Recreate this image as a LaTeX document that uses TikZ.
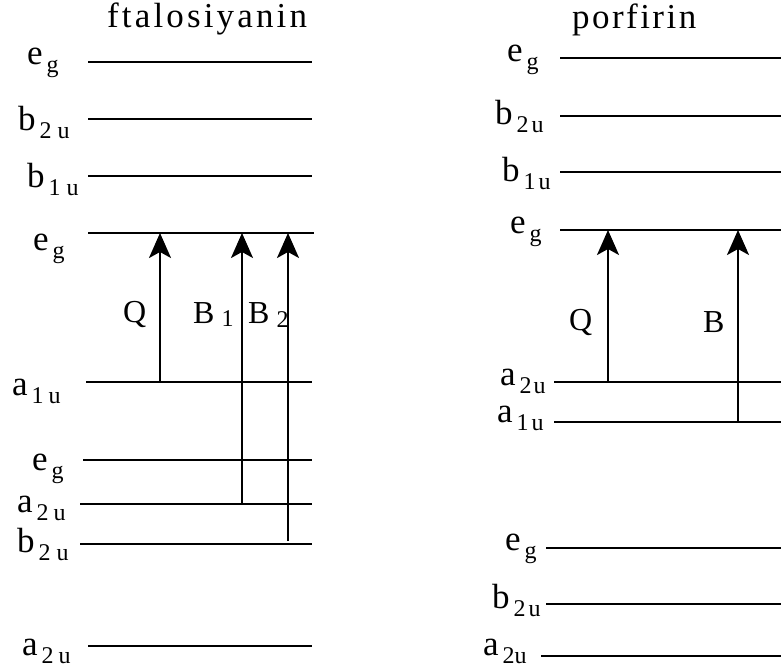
\documentclass[tikz,border=0pt]{standalone}
\usepackage{fontspec}
\setmainfont{Liberation Serif}
\usetikzlibrary{arrows.meta}

\newcommand{\lvfont}{\fontsize{35pt}{38pt}\selectfont}
\newcommand{\trfont}{\fontsize{32pt}{34pt}\selectfont}
\newcommand{\subfont}{\fontsize{24pt}{26pt}\selectfont}
\newcommand{\orb}[2]{#1\hspace{4pt}\raisebox{-8pt}{\subfont #2}}

\begin{document}
\begin{tikzpicture}[x=1pt,y=-1pt]
	\tikzstyle{every node}=[font=\lvfont, inner sep=0pt, anchor=base west]
	\tikzstyle{level}=[line width=2pt]
	\tikzstyle{levelb}=[line width=2.8pt]
	\tikzstyle{trans}=[line width=2pt, -{Stealth[length=25pt,width=22pt,inset=6pt]}]
	\useasboundingbox (0,0) rectangle (781,671);
	
	% ftalosiyanin
	\node (fttl) at (107,28) {\addfontfeature{LetterSpace=9}ftalosiyanin};
	
	\draw[level] (88,62) coordinate (fL1) -- (312,62);
	\draw[level] (88,119) coordinate (fL2) -- (312,119);
	\draw[level] (88,176) coordinate (fL3) -- (312,176);
	\draw[levelb] (88,233) coordinate (fL4) -- (314,233);
	\draw[levelb] (86,382) coordinate (fL5) -- (312,382);
	\draw[levelb] (83,460) coordinate (fL6) -- (312,460);
	\draw[levelb] (80,504) coordinate (fL7) -- (312,504);
	\draw[levelb] (80,544) coordinate (fL8) -- (312,544);
	\draw[levelb] (88,646) coordinate (fL9) -- (312,646);
	
	\node (fl1) at (27,65) {\orb{e}{g}};
	\node (fl2) at (18,131) {\orb{b}{2\hspace{6pt}u}};
	\node (fl3) at (27,188) {\orb{b}{1\hspace{6pt}u}};
	\node (fl4) at (33,250) {\orb{e}{g}};
	\node (fl5) at (12,395) {\orb{a}{1\hspace{5pt}u}};
	\node (fl6) at (32,470) {\orb{e}{g}};
	\node (fl7) at (17,512) {\orb{a}{2\hspace{5pt}u}};
	\node (fl8) at (17,552) {\orb{b}{2\hspace{6pt}u}};
	\node (fl9) at (22,655) {\orb{a}{2\hspace{5pt}u}};
	
	\coordinate (fQ) at (160,0);
	\coordinate (fB1) at (242,0);
	\coordinate (fB2) at (288,0);
	\draw[trans] (fQ |- fL5) -- (fQ |- fL4);
	\draw[trans] (fB1 |- fL7) -- (fB1 |- fL4);
	\draw[trans] ([yshift=3pt]fB2 |- fL8) -- (fB2 |- fL4);
	
	\node[font=\trfont] (fq) at (123,322) {Q};
	\node[font=\trfont] (fb1) at (193,323) {B\hspace{7pt}\raisebox{-3pt}{\subfont 1}};
	\node[font=\trfont] (fb2) at (248,323) {B\hspace{7pt}\raisebox{-4pt}{\subfont 2}};
	
	% porfirin
	\node (pttl) at (572,29) {\addfontfeature{LetterSpace=7}porfirin};
	
	\draw[level] (560,58) coordinate (pL1) -- (781,58);
	\draw[level] (560,116) coordinate (pL2) -- (781,116);
	\draw[level] (560,172) coordinate (pL3) -- (781,172);
	\draw[levelb] (560,230) coordinate (pL4) -- (781,230);
	\draw[levelb] (554,382) coordinate (pL5) -- (781,382);
	\draw[levelb] (554,422) coordinate (pL6) -- (781,422);
	\draw[levelb] (546,548) coordinate (pL7) -- (781,548);
	\draw[levelb] (546,604) coordinate (pL8) -- (781,604);
	\draw[levelb] (541,656) coordinate (pL9) -- (781,656);
	
	\node (pl1) at (507,62) {\orb{e}{g}};
	\node (pl2) at (495,125) {\orb{b}{2\hspace{3pt}u}};
	\node (pl3) at (502,182) {\orb{b}{1\hspace{3pt}u}};
	\node (pl4) at (510,233) {\orb{e}{g}};
	\node (pl5) at (500,385) {\orb{a}{2\hspace{2pt}u}};
	\node (pl6) at (497,422) {\orb{a}{1\hspace{3pt}u}};
	\node (pl7) at (505,550) {\orb{e}{g}};
	\node (pl8) at (492,608) {\orb{b}{2\hspace{3pt}u}};
	\node (pl9) at (483,655) {\orb{a}{2u}};
	
	\coordinate (pQ) at (608,0);
	\coordinate (pB) at (738,0);
	\draw[trans] (pQ |- pL5) -- (pQ |- pL4);
	\draw[trans] (pB |- pL6) -- (pB |- pL4);
	
	\node[font=\trfont] (pq) at (569,330) {Q};
	\node[font=\trfont] (pb) at (703,332) {B};
	
\end{tikzpicture}
\end{document}
